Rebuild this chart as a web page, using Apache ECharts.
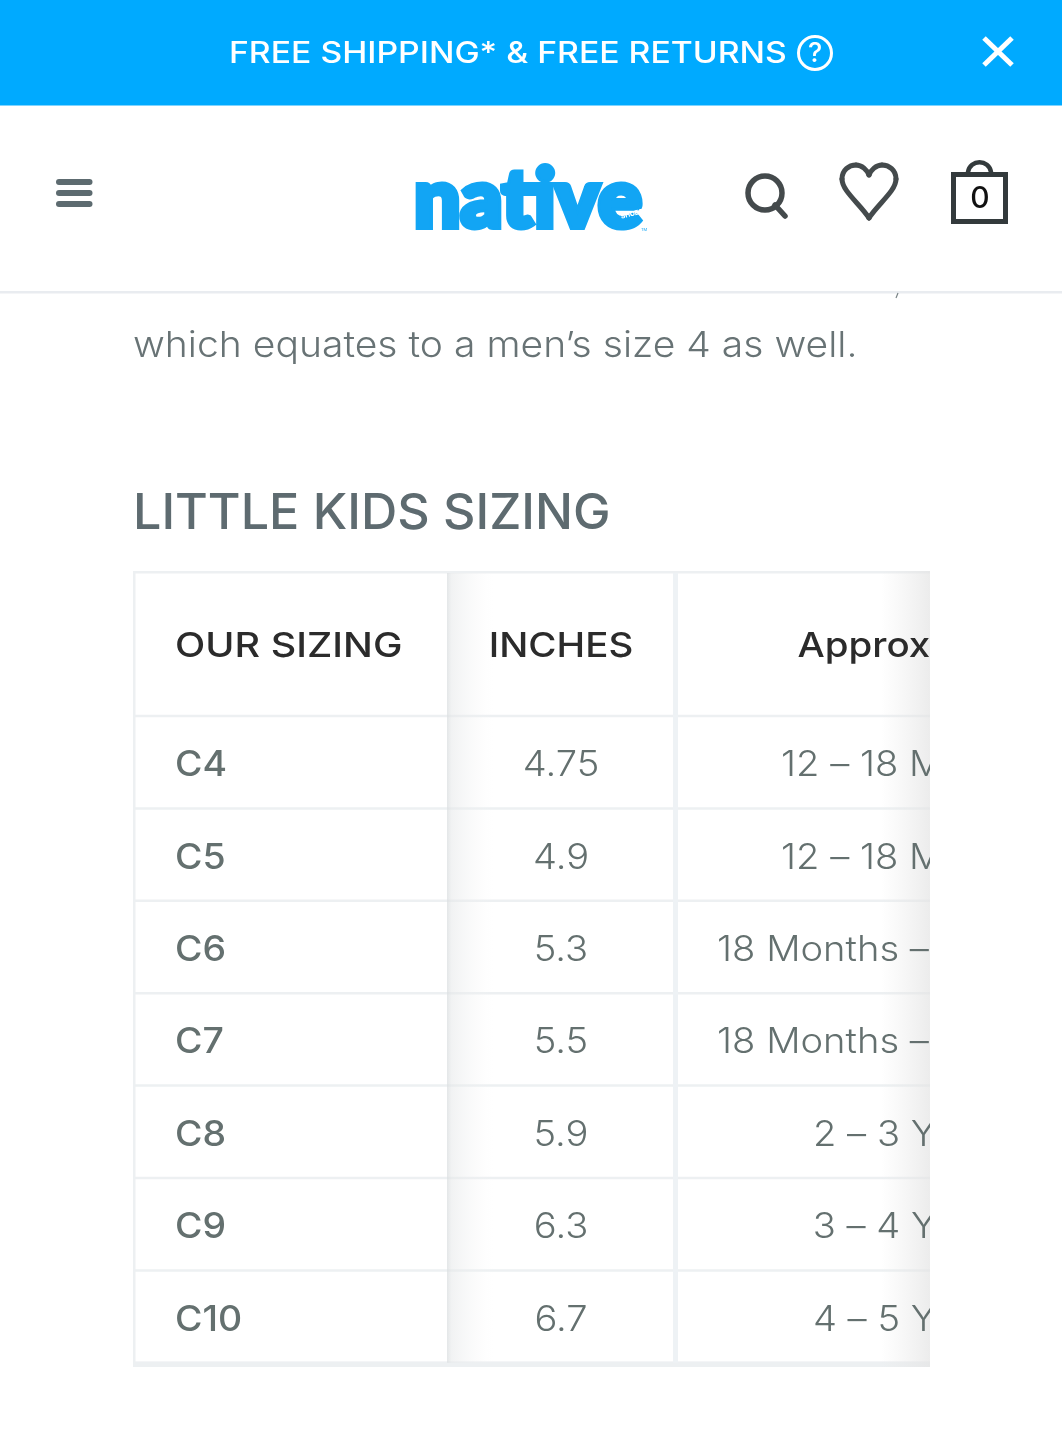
<!DOCTYPE html>
<html><head><meta charset="utf-8">
<style>html,body{margin:0;padding:0;background:#fff}#c{width:1062px;height:1440px}</style>
<script src="https://cdn.jsdelivr.net/npm/echarts@6/dist/echarts.min.js"></script>
</head><body><div id="c"></div>
<script>
// ---- table content ----
const headers = ['OUR SIZING', 'INCHES', 'Approx. Age'];
const sizes = ['C4', 'C5', 'C6', 'C7', 'C8', 'C9', 'C10'];
const inches = ['4.75', '4.9', '5.3', '5.5', '5.9', '6.3', '6.7'];
const ages = ['12 – 18 Months', '12 – 18 Months', '18 Months – 2.5 Years', '18 Months – 2.5 Years', '2 – 3 Years', '3 – 4 Years', '4 – 5 Years'];
const bannerText = 'FREE SHIPPING* & FREE RETURNS';
const introText = 'which equates to a men’s size 4 as well.';
const titleText = 'LITTLE KIDS SIZING';

// ---- layout of the table, in axis units ----
const colEdges = [0, 314, 542, 1015];
const headH = 145, rowH = 92.4;
const rowTop = r => r === 0 ? 0 : headH + (r - 1) * rowH;
const rowBottom = r => r === 0 ? headH : headH + r * rowH;
const FONT = 'Inter, "Open Sans", sans-serif';
const LINE = '#edf0f2';

const cells = [];
headers.forEach((h, c) => cells.push([c, 0, h]));
sizes.forEach((s, i) => {
  cells.push([0, i + 1, s]);
  cells.push([1, i + 1, inches[i]]);
  cells.push([2, i + 1, ages[i]]);
});

function rr(api, x0, y0, x1, y1) {
  const a = api.coord([x0, y0]), b = api.coord([x1, y1]);
  return { x: a[0], y: a[1], width: b[0] - a[0], height: b[1] - a[1] };
}
function renderLines(params, api) {
  const c = api.value(0), r = api.value(1);
  const x0 = colEdges[c], x1 = colEdges[c + 1], y1 = rowBottom(r);
  return { type: 'rect', shape: rr(api, x0, y1 - 1.25, x1, y1 + 1.25), style: { fill: LINE } };
}
function renderText(params, api) {
  const c = api.value(0), r = api.value(1), t = cells[params.dataIndex][2];
  const head = r === 0;
  const yc = (rowTop(r) + rowBottom(r)) / 2 + 3.5;
  const left = c === 0;
  const xp = left ? colEdges[0] + 42 : (colEdges[c] + colEdges[c + 1]) / 2;
  const p = api.coord([xp, yc]);
  const wide = head ? (left ? 1.145 : 1.115) : (left ? 1.07 : 1.09);
  return {
    type: 'text', x: p[0], y: p[1], scaleX: wide, scaleY: 1,
    style: {
      x: 0, y: 0, text: t,
      align: left ? 'left' : 'center', verticalAlign: 'middle',
      fontFamily: FONT,
      fontSize: head ? 34.5 : 35,
      fontWeight: head ? 500 : (left ? 500 : 300),
      fill: head ? '#2b2b2b' : '#64706f'
    }
  };
}
function renderBars(params, api) {
  const k = api.value(0);
  const grad = (stops) => new echarts.graphic.LinearGradient(0, 0, 1, 0, stops);
  if (k === 0) { // outer frame + column rules
    return { type: 'group', children: [
      { type: 'rect', shape: rr(api, 0, 0, 797, 2.5), style: { fill: LINE } },
      { type: 'rect', shape: rr(api, 0, 0, 2.5, 796), style: { fill: LINE } },
      { type: 'rect', shape: rr(api, 0, rowBottom(7) - 1, 797, 796), style: { fill: LINE } },
      { type: 'rect', shape: rr(api, colEdges[2] - 2, 2, colEdges[2] + 3, rowBottom(7)), style: { fill: '#eef2f5' } }
    ]};
  }
  if (k === 1) { // scroll shadow beside the fixed column
    const s = rr(api, colEdges[1], 2, colEdges[1] + 46, rowBottom(7));
    return { type: 'rect', shape: s, style: { fill: grad([{ offset: 0, color: 'rgba(218,222,224,0.75)' }, { offset: 0.1, color: 'rgba(230,232,233,0.55)' }, { offset: 1, color: 'rgba(245,245,245,0)' }]) } };
  }
  const s = rr(api, 748, 0, 797, 796); // fade on the clipped edge
  return { type: 'rect', shape: s, style: { fill: grad([{ offset: 0, color: 'rgba(232,232,232,0)' }, { offset: 1, color: 'rgba(228,228,228,0.7)' }]) } };
}

// ---- page furniture ----
const ICON = '#444a4c';
const heartSegs = [
  [869, 218, 860, 204, 842, 191, 842, 179],
  [842, 179, 842, 170, 849, 165, 856, 165],
  [856, 165, 862, 165, 867, 170, 869, 175],
  [869, 175, 871, 170, 876, 165, 882, 165],
  [882, 165, 889, 165, 896, 170, 896, 179],
  [896, 179, 896, 191, 878, 204, 869, 218]
];
const bez = (s, col, lw) => ({ type: 'bezierCurve', shape: { x1: s[0], y1: s[1], cpx1: s[2], cpy1: s[3], cpx2: s[4], cpy2: s[5], x2: s[6], y2: s[7] }, style: { fill: 'none', stroke: col, lineWidth: lw, lineCap: 'round' } });
const graphic = [
  { type: 'rect', shape: { x: 0, y: 0, width: 1062, height: 105.5 }, style: { fill: '#00aaff' } },
  { type: 'text', x: 229, y: 54, scaleX: 1.143, style: { x: 0, y: 0, text: bannerText, fill: '#fff', fontFamily: FONT, fontSize: 29.5, fontWeight: 500, verticalAlign: 'middle' } },
  { type: 'circle', shape: { cx: 815, cy: 53, r: 16.5 }, style: { fill: 'none', stroke: '#fff', lineWidth: 3 } },
  { type: 'text', style: { x: 815, y: 54, text: '?', fill: '#fff', fontFamily: FONT, fontSize: 27, fontWeight: 500, align: 'center', verticalAlign: 'middle' } },
  { type: 'line', shape: { x1: 984, y1: 38, x2: 1012, y2: 65 }, style: { stroke: '#fff', lineWidth: 5 } },
  { type: 'line', shape: { x1: 1012, y1: 38, x2: 984, y2: 65 }, style: { stroke: '#fff', lineWidth: 5 } },
  { type: 'rect', shape: { x: 56, y: 179, width: 36.5, height: 6, r: 3 }, style: { fill: '#5d6b70' } },
  { type: 'rect', shape: { x: 56, y: 190, width: 36.5, height: 6, r: 3 }, style: { fill: '#5d6b70' } },
  { type: 'rect', shape: { x: 56, y: 201, width: 36.5, height: 6, r: 3 }, style: { fill: '#5d6b70' } },
  // logo
  { type: 'text', x: 414, y: 242, style: { x: 0, y: 0, text: 'native', fill: '#12a5f4', fontFamily: 'Lato, Inter, sans-serif', fontSize: 82, fontWeight: 900, verticalAlign: 'bottom', stroke: '#12a5f4', lineWidth: 6, lineJoin: 'round' } },
  { type: 'text', rotation: 0.25, x: 632, y: 214, style: { x: 0, y: 0, text: 'SHOES', fill: '#fff', fontFamily: FONT, fontSize: 6.5, fontWeight: 800, align: 'center', verticalAlign: 'middle' } },
  { type: 'text', style: { x: 644, y: 230, text: 'TM', fill: '#12a5f4', fontFamily: FONT, fontSize: 4, align: 'center', verticalAlign: 'middle' } },
  // search
  { type: 'circle', shape: { cx: 765, cy: 193, r: 17 }, style: { fill: 'none', stroke: ICON, lineWidth: 5.5 } },
  { type: 'line', shape: { x1: 775, y1: 205, x2: 785, y2: 216 }, style: { stroke: ICON, lineWidth: 5.5, lineCap: 'round' } },
  // heart
  ...heartSegs.map(s => bez(s, ICON, 5)),
  // bag
  { type: 'rect', shape: { x: 953.5, y: 174.5, width: 52, height: 47 }, style: { fill: 'none', stroke: '#333a3c', lineWidth: 5 } },
  bez([968, 172, 970, 159, 989, 159, 991, 172], '#333a3c', 4.5),
  { type: 'text', style: { x: 980, y: 199, text: '0', fill: '#111', fontFamily: FONT, fontSize: 30, fontWeight: 500, align: 'center', verticalAlign: 'middle' } },
  // header rule
  { type: 'rect', shape: { x: 0, y: 291, width: 1062, height: 2.5 }, style: { fill: '#e9ecf0' } },
  { type: 'line', shape: { x1: 898, y1: 293, x2: 896, y2: 298 }, style: { stroke: '#7a8486', lineWidth: 1.2 } },
  // copy
  { type: 'text', x: 133, y: 346, scaleX: 1.085, style: { x: 0, y: 0, text: introText, fill: '#687375', fontFamily: FONT, fontSize: 36, fontWeight: 300, verticalAlign: 'middle' } },
  { type: 'text', x: 133, y: 514, scaleX: 1.025, style: { x: 0, y: 0, text: titleText, fill: '#5e6b70', fontFamily: FONT, fontSize: 49, fontWeight: 500, verticalAlign: 'middle' } }
];

const chart = echarts.init(document.getElementById('c'), null, { renderer: 'canvas' });
chart.setOption({
  backgroundColor: '#fff',
  animation: false,
  grid: { left: 133, top: 571, width: 797, height: 796 },
  xAxis: { type: 'value', min: 0, max: 797, show: false },
  yAxis: { type: 'value', min: 0, max: 796, inverse: true, show: false },
  graphic: graphic,
  series: [
    { type: 'custom', name: 'rules', clip: true, silent: true, z: 2, renderItem: renderLines, encode: { x: 0, y: 1 }, data: cells.map(c => [c[0], c[1]]) },
    { type: 'custom', name: 'frame', clip: true, silent: true, z: 3, renderItem: renderBars, encode: { x: -1, y: -1 }, data: [[0], [1], [2]] },
    { type: 'custom', name: 'text', clip: true, silent: true, z: 4, renderItem: renderText, encode: { x: 0, y: 1 }, data: cells.map(c => [c[0], c[1]]) }
  ]
});
</script></body></html>
